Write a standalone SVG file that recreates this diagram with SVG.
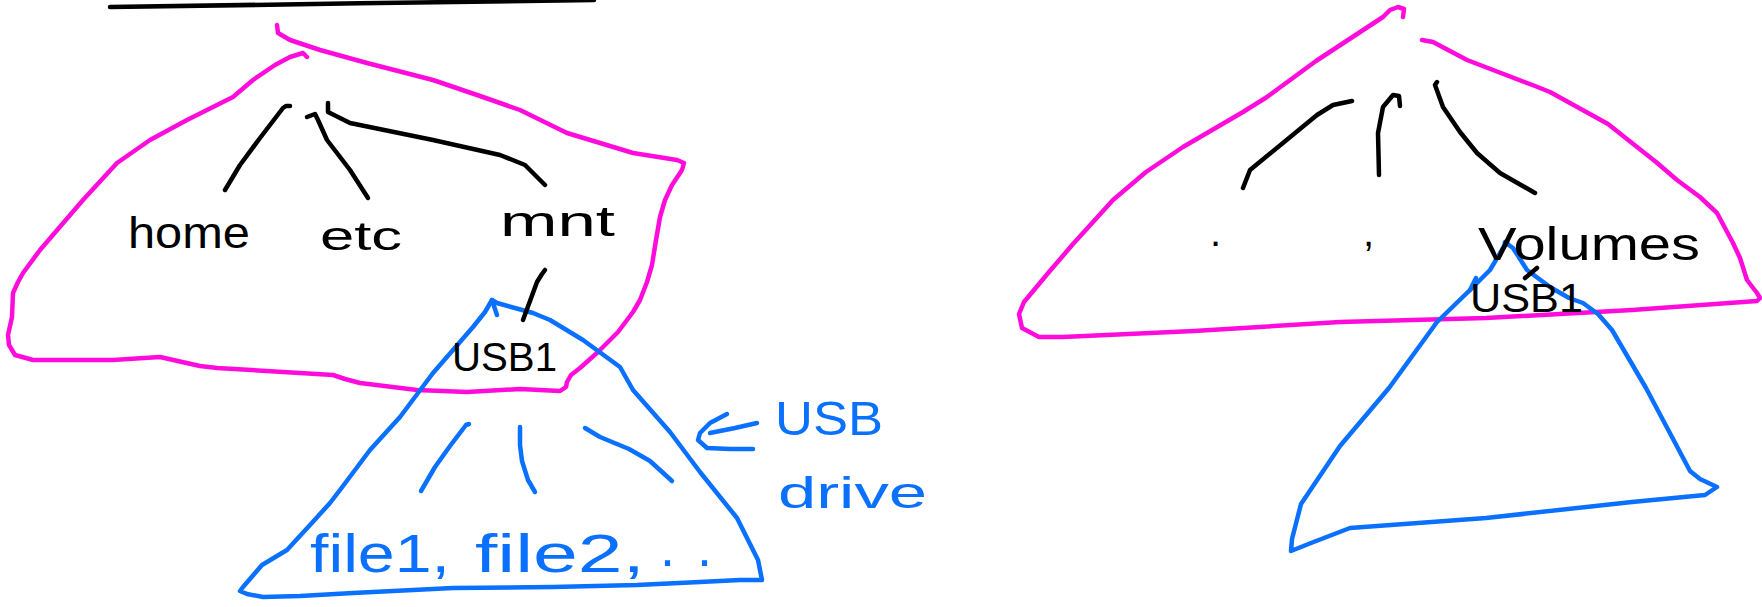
<svg xmlns="http://www.w3.org/2000/svg" width="1762" height="607" viewBox="0 0 1762 607">
<style>
.s{fill:none;stroke-width:4.5;stroke-linecap:round;stroke-linejoin:round}
.k{stroke:#000}
.p{stroke:#FF0CDC}
.b{stroke:#0A70FF}
.t{font-family:"Liberation Sans",Arial,sans-serif;fill:#000}
.tb{font-family:"Liberation Sans",Arial,sans-serif;fill:#0A70FF}
</style>
<rect width="1762" height="607" fill="#fff"/>
<g id="divider">
<path class="s k" d="M110,7 C250,5 450,2 594,0"/>
</g>
<g id="filesystem-left">
<path class="s p" d="M277,25 L278,33 L290,40 L320,50 L367,63 L433,80 L480,96 L520,110 L567,133 L610,146 L633,153 L677,160 L684,163 L682,170 L672,185 L665,200 L660,217 L656,240 L652,265 L647,282 L640,300 L633,312 L618,332 L598,352 L580,368 L571,375 L567,382 L566,387 L560,391 L520,389 L467,392 L417,390 L360,383 L345,379 L333,375 L300,373 L217,368 L200,366 L160,357 L113,360 L33,360 L15,355 L9,345 L8,335 L12,317 L13,293 L18,282 L23,273 L40,250 L83,200 L117,163 L150,140 L187,120 L233,97 L253,80 L275,65 L290,57 L303,53 L307,57"/>
</g>
<g id="usb-left">
<path class="s b" d="M243,587 L240,591 L247,594 L263,597 L300,596 L353,593 L453,588 L553,587 L637,585 L700,582 L740,580 L762,580 L758,560 L748,540 L737,518 L700,472 L670,432 L633,390 L620,367 L583,340 L550,320 L533,313 L497,303 L492,300 L485,312 L473,327 L433,373 L400,417 L370,450 L340,490 L330,503 L310,525 L287,550 L262,565 L243,587"/>
<path class="s b" d="M492,300 L497,315"/>
</g>
<g id="filesystem-right">
<path class="s p" d="M1403,17 L1404,9 L1398,7 L1390,10 L1383,17 L1316,61 L1267,97 L1243,112 L1183,147 L1146,172 L1113,200 L1073,244 L1049,272 L1024,302 L1019,314 L1022,328 L1039,337 L1063,337 L1194,331 L1340,322 L1486,318 L1632,310 L1757,301 L1760,298 L1757,293 L1747,280 L1740,258 L1733,243 L1717,213 L1700,197 L1677,180 L1656,162 L1608,124 L1550,92 L1535,86 L1467,60 L1433,42 L1422,40"/>
</g>
<g id="usb-right">
<path class="s b" d="M1506,243 L1490,270 L1473,287 L1470,290 L1437,322 L1389,388 L1340,446 L1301,504 L1292,539 L1291,551 L1311,543 L1350,528 L1486,518 L1632,502 L1705,495 L1717,487 L1700,479 L1690,471 L1646,388 L1612,330 L1598,314 L1583,303 L1569,298 L1550,287 L1527,270 L1513,248 L1506,243"/>
<path class="s b" d="M1470,290 L1476,278"/>
<circle cx="1506" cy="243" r="3.5" fill="#0A70FF"/>
</g>
<g id="connectors">
<path class="s k" d="M290,106 L286,106 L283,108 L260,138 L240,165 L225,190"/>
<path class="s k" d="M307,117 L315,114 L318,120 L327,140 L350,170 L368,198"/>
<path class="s k" d="M328,103 L328,112 L350,123 L433,140 L500,155 L525,165 L545,185"/>
<path class="s k" d="M545,270 L542,274 L537,282 L523,320"/>
<path class="s k" d="M1352,101 L1333,105 L1317,115 L1250,170 L1243,188"/>
<path class="s k" d="M1400,106 L1399,96 L1393,95 L1383,107 L1378,133 L1379,175"/>
<path class="s k" d="M1437,82 L1435,85 L1443,107 L1460,132 L1477,153 L1500,173 L1535,193"/>
<path class="s k" d="M1537,268 L1525,278"/>
<path class="s b" d="M469,424 L466,425 L450,446 L435,467 L421,491"/>
<path class="s b" d="M520,427 L520,445 L522,461 L528,480 L535,492"/>
<path class="s b" d="M585,428 L600,437 L629,449 L650,461 L672,481"/>
</g>
<g id="node-home"><text class="t" x="128" y="248" font-size="44" textLength="122" lengthAdjust="spacingAndGlyphs">home</text></g>
<g id="node-etc"><text class="t" x="320" y="250" font-size="40" textLength="82" lengthAdjust="spacingAndGlyphs">etc</text></g>
<g id="node-mnt"><text class="t" x="500" y="236" font-size="42" textLength="115" lengthAdjust="spacingAndGlyphs">mnt</text></g>
<g id="node-usb1-left"><text class="t" x="452" y="371" font-size="40" textLength="105" lengthAdjust="spacingAndGlyphs">USB1</text></g>
<g id="node-files"><text class="tb" x="310" y="572" font-size="54" textLength="140" lengthAdjust="spacingAndGlyphs">file1,</text><text class="tb" x="475" y="572" font-size="54" textLength="170" lengthAdjust="spacingAndGlyphs">file2,</text><text class="tb" x="660" y="566" font-size="54" textLength="52" lengthAdjust="spacing">. .</text></g>
<g id="usb-drive-label">
<path class="s b" d="M757,423 L735,428 L710,433"/>
<path class="s b" d="M727,414 L710,423 L700,433 L698,440 L707,448 L730,449 L753,449"/>
<text class="tb" x="775" y="435" font-size="48" textLength="108" lengthAdjust="spacingAndGlyphs">USB</text>
<text class="tb" x="778" y="508" font-size="44" textLength="149" lengthAdjust="spacingAndGlyphs">drive</text>
</g>
<g id="node-dot"><text class="t" x="1210" y="246" font-size="40">.</text></g>
<g id="node-dotdot"><text class="t" x="1363" y="246" font-size="40">,</text></g>
<g id="node-volumes"><text class="t" x="1478" y="260" font-size="46" textLength="222" lengthAdjust="spacingAndGlyphs">Volumes</text></g>
<g id="node-usb1-right"><text class="t" x="1470" y="312" font-size="40" textLength="113" lengthAdjust="spacingAndGlyphs">USB1</text></g>
</svg>
